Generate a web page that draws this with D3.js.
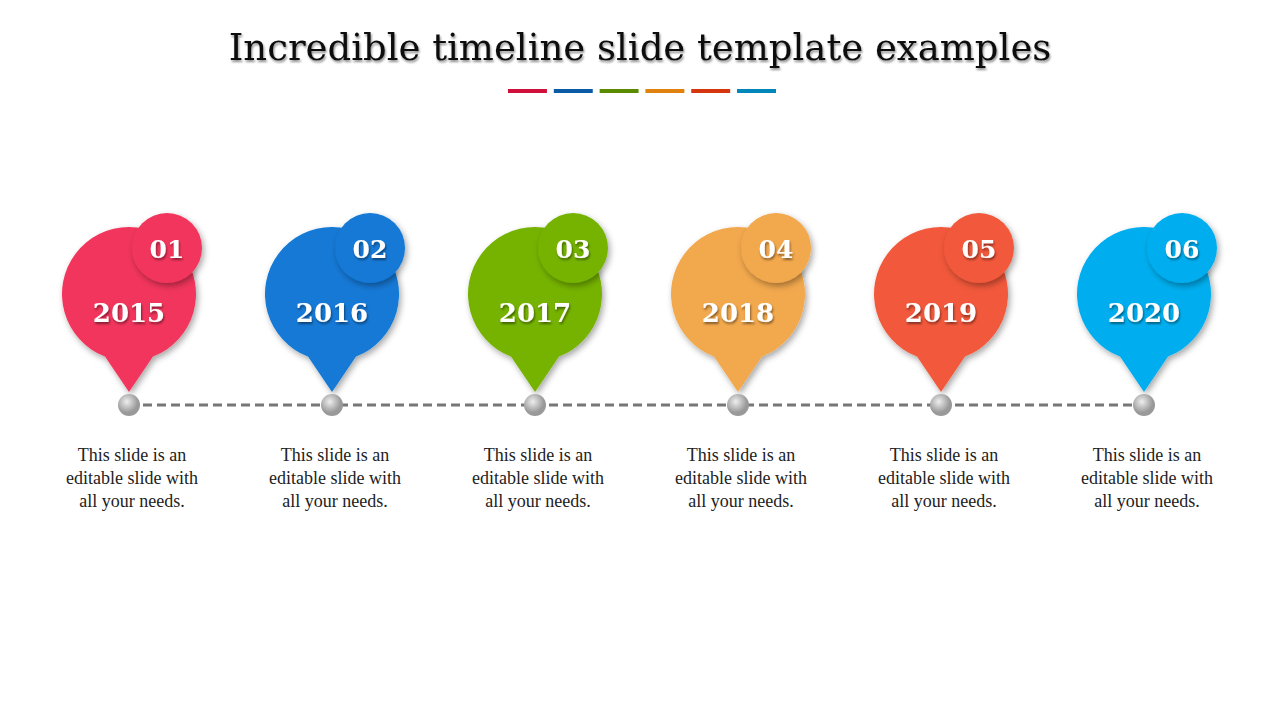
<!DOCTYPE html><html><head><meta charset="utf-8"><script src="https://cdn.jsdelivr.net/npm/d3@7"></script>
<style>body{margin:0;background:#fff}</style></head><body><svg id="c" width="1280" height="720"></svg>
<script>
const years=["2015","2016","2017","2018","2019","2020"];
const numbers=["01","02","03","04","05","06"];
const colors=["#F2365C","#1279D6","#74B300","#F2A84E","#F2593B","#00AEEF"];
const barColors=["#D0103A","#0B5AA5","#5A8A00","#E0820F","#D5360F","#0086B8"];
const descLines=["This slide is an","editable slide with","all your needs."];
const svg=d3.select("#c");
const defs=svg.append("defs");
const f=defs.append("filter").attr("id","sh").attr("x","-30%").attr("y","-30%").attr("width","160%").attr("height","160%");
f.append("feDropShadow").attr("dx",2).attr("dy",3).attr("stdDeviation",3).attr("flood-color","#000").attr("flood-opacity",0.35);
const ft=defs.append("filter").attr("id","ts");
ft.append("feDropShadow").attr("dx",1).attr("dy",2).attr("stdDeviation",1).attr("flood-color","#000").attr("flood-opacity",0.45);
const g=defs.append("radialGradient").attr("id","dot").attr("cx","40%").attr("cy","35%");
g.append("stop").attr("offset","0%").attr("stop-color","#eee");
g.append("stop").attr("offset","100%").attr("stop-color","#999");
svg.append("text").attr("x",640).attr("y",60).attr("text-anchor","middle").attr("font-family","DejaVu Serif, Liberation Serif, serif").attr("font-size",37).attr("fill","#111").attr("filter","url(#ts)").text("Incredible timeline slide template examples");
const bx=d3.scaleBand().domain(d3.range(6)).range([508,776]).paddingInner(0.15);
svg.selectAll(".bar").data(barColors).join("rect").attr("x",(d,i)=>bx(i)).attr("y",89).attr("width",bx.bandwidth()).attr("height",4).attr("fill",d=>d);
const x=d3.scalePoint().domain(years).range([129,1144]);
svg.append("line").attr("x1",x(years[0])).attr("x2",x(years[5])).attr("y1",405).attr("y2",405).attr("stroke","#777").attr("stroke-width",3).attr("stroke-dasharray","9,5");
const R=67,cy=294,tip=392;
years.forEach((y,i)=>{
  const cx=x(y),G=svg.append("g");
  const a=Math.asin(24/R);const by=cy+R*Math.cos(a);
  const p=d3.path();p.arc(cx,cy,R,Math.PI/2+a,Math.PI/2-a+2*Math.PI);p.lineTo(cx,tip);p.closePath();
  G.append("path").attr("d",p.toString()).attr("fill",colors[i]).attr("filter","url(#sh)");
  G.append("circle").attr("cx",cx+38).attr("cy",248).attr("r",35).attr("fill",colors[i]).attr("filter","url(#sh)");
  G.append("text").attr("x",cx+38).attr("y",258).attr("text-anchor","middle").attr("font-family","DejaVu Serif, serif").attr("font-weight","bold").attr("font-size",25).attr("fill","#fff").attr("filter","url(#ts)").text(numbers[i]);
  G.append("text").attr("x",cx).attr("y",322).attr("text-anchor","middle").attr("font-family","DejaVu Serif, serif").attr("font-weight","bold").attr("font-size",26).attr("fill","#fff").attr("filter","url(#ts)").text(y);
  G.append("circle").attr("cx",cx).attr("cy",405).attr("r",11).attr("fill","url(#dot)");
  descLines.forEach((t,j)=>G.append("text").attr("x",cx+3).attr("y",461+j*23).attr("text-anchor","middle").attr("font-family","Liberation Serif, serif").attr("font-size",18).attr("fill","#222").text(t));
});
</script></body></html>
